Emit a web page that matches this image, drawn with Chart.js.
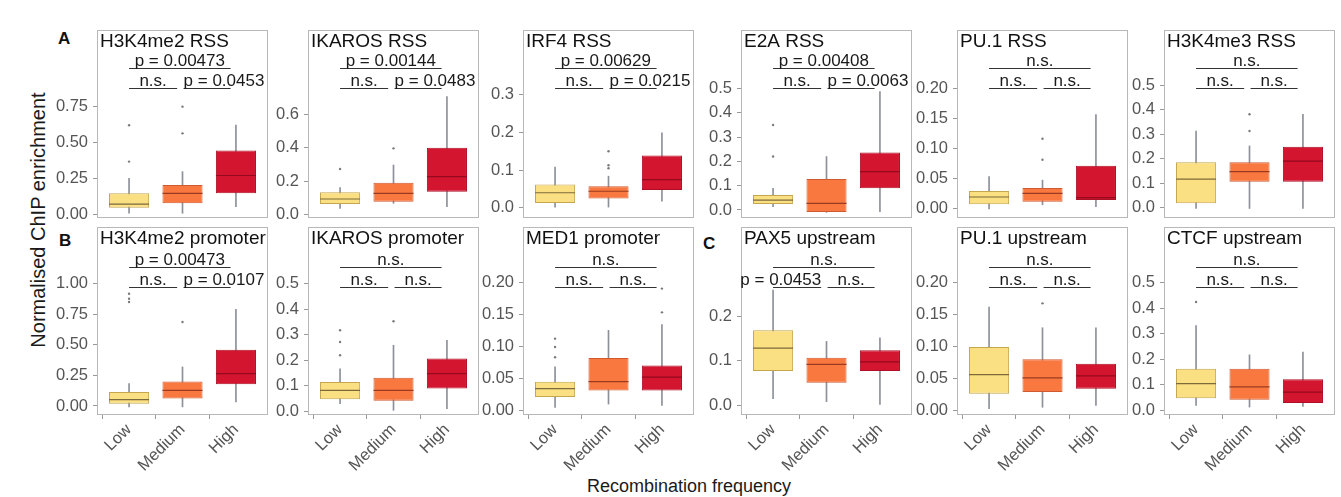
<!DOCTYPE html>
<html>
<head>
<meta charset="utf-8">
<script src="https://cdn.jsdelivr.net/npm/chart.js@4.4.1/dist/chart.umd.min.js"></script>
<style>
html,body{margin:0;padding:0;background:#fff;}
#fig{position:relative;width:1341px;height:497px;overflow:hidden;font-family:"Liberation Sans",Arial,Helvetica,sans-serif;background:#fff;}
#fig canvas{position:absolute;}
.txt{position:absolute;white-space:nowrap;color:#111;}
</style>
</head>
<body>
<div id="fig">
  <div class="txt" style="left:58px;top:29px;font-size:17px;line-height:20px;font-weight:bold;">A</div>
  <div class="txt" style="left:59px;top:231px;font-size:17px;line-height:20px;font-weight:bold;">B</div>
  <div class="txt" style="left:703px;top:234px;font-size:17px;line-height:20px;font-weight:bold;">C</div>
  <div class="txt" style="left:-112px;top:209px;width:300px;text-align:center;font-size:20px;line-height:22px;transform:rotate(-90deg);color:#1a1a1a;">Normalised ChIP enrichment</div>
  <div class="txt" style="left:489px;top:476px;width:400px;text-align:center;font-size:18px;line-height:20px;color:#1a1a1a;">Recombination frequency</div>
</div>
<script>
// ---------------- data ----------------
const categories = ['Low', 'Medium', 'High'];
const panelTitles = ['H3K4me2 RSS', 'IKAROS RSS', 'IRF4 RSS', 'E2A RSS', 'PU.1 RSS', 'H3K4me3 RSS',
                     'H3K4me2 promoter', 'IKAROS promoter', 'MED1 promoter', 'PAX5 upstream', 'PU.1 upstream', 'CTCF upstream'];

// per category: [lower whisker, Q1, median, Q3, upper whisker]
const statsH3K4me2RSS      = [[0.007,0.046,0.070,0.146,0.250],[0.007,0.077,0.146,0.204,0.297],[0.053,0.146,0.270,0.444,0.622]];
const statsIKAROSRSS       = [[0.036,0.062,0.092,0.132,0.160],[0.066,0.076,0.126,0.190,0.296],[0.046,0.136,0.226,0.400,0.706]];
const statsIRF4RSS         = [[0.002,0.013,0.040,0.062,0.108],[0.002,0.025,0.044,0.057,0.084],[0.018,0.047,0.075,0.139,0.199]];
const statsE2ARSS          = [[0.014,0.025,0.041,0.062,0.089],[-0.010,-0.008,0.027,0.128,0.220],[-0.007,0.089,0.158,0.237,0.487]];
const statsPU1RSS          = [[-0.001,0.007,0.019,0.029,0.053],[0.006,0.011,0.025,0.034,0.047],[0.003,0.014,0.018,0.071,0.156]];
const statsH3K4me3RSS      = [[-0.003,0.018,0.117,0.185,0.313],[-0.003,0.106,0.147,0.185,0.252],[-0.003,0.106,0.190,0.249,0.381]];
const statsH3K4me2Promoter = [[-0.008,0.019,0.052,0.114,0.183],[-0.008,0.060,0.128,0.200,0.319],[0.033,0.177,0.264,0.460,0.790]];
const statsIKAROSPromoter  = [[0.030,0.047,0.082,0.115,0.167],[0.004,0.041,0.082,0.132,0.259],[0.010,0.089,0.148,0.207,0.278]];
const statsMED1Promoter    = [[0.005,0.021,0.034,0.045,0.068],[0.010,0.031,0.045,0.082,0.125],[0.008,0.031,0.052,0.070,0.134]];
const statsPAX5Upstream    = [[0.015,0.077,0.129,0.169,0.260],[0.008,0.051,0.092,0.107,0.144],[0.002,0.077,0.098,0.124,0.152]];
const statsPU1Upstream     = [[0.003,0.026,0.056,0.099,0.161],[0.005,0.029,0.051,0.080,0.129],[0.008,0.034,0.054,0.073,0.129]];
const statsCTCFUpstream    = [[0.020,0.048,0.105,0.163,0.333],[0.013,0.042,0.092,0.163,0.218],[0.016,0.029,0.072,0.122,0.229]];

// outlier points per category
const outH3K4me2RSS      = [[0.367,0.620],[0.564,0.750],[]];
const outIKAROSRSS       = [[0.272],[0.396],[]];
const outIRF4RSS         = [[],[0.105,0.113,0.150],[]];
const outE2ARSS          = [[0.220,0.350],[],[]];
const outPU1RSS          = [[],[0.081,0.116],[]];
const outH3K4me3RSS      = [[],[0.313,0.381],[]];
const outH3K4me2Promoter = [[0.850,0.877,0.918],[0.687],[]];
const outIKAROSPromoter  = [[0.220,0.272,0.318],[0.353],[]];
const outMED1Promoter    = [[0.083,0.099,0.112],[],[0.153,0.190]];
const outPAX5Upstream    = [[],[],[]];
const outPU1Upstream     = [[],[0.167],[]];
const outCTCFUpstream    = [[0.425],[],[]];

const panelStats = [statsH3K4me2RSS, statsIKAROSRSS, statsIRF4RSS, statsE2ARSS, statsPU1RSS, statsH3K4me3RSS,
                    statsH3K4me2Promoter, statsIKAROSPromoter, statsMED1Promoter, statsPAX5Upstream, statsPU1Upstream, statsCTCFUpstream];
const panelOutliers = [outH3K4me2RSS, outIKAROSRSS, outIRF4RSS, outE2ARSS, outPU1RSS, outH3K4me3RSS,
                       outH3K4me2Promoter, outIKAROSPromoter, outMED1Promoter, outPAX5Upstream, outPU1Upstream, outCTCFUpstream];

const yLimits = [[-0.026,1.284],[-0.022,1.106],[-0.027,0.472],[-0.033,0.741],[-0.016,0.297],[-0.042,0.725],
                 [-0.074,1.464],[-0.0145,0.723],[-0.007,0.286],[-0.022,0.402],[-0.007,0.286],[-0.018,0.719]];
const yTicks = [[0,0.25,0.5,0.75],[0,0.2,0.4,0.6],[0,0.1,0.2,0.3],[0,0.1,0.2,0.3,0.4,0.5],[0,0.05,0.1,0.15,0.2],[0,0.1,0.2,0.3,0.4,0.5],
                [0,0.25,0.5,0.75,1],[0,0.1,0.2,0.3,0.4,0.5],[0,0.05,0.1,0.15,0.2],[0,0.1,0.2],[0,0.05,0.1,0.15,0.2],[0,0.1,0.2,0.3,0.4,0.5]];
const yTickLabels = [['0.00','0.25','0.50','0.75'],['0.0','0.2','0.4','0.6'],['0.0','0.1','0.2','0.3'],['0.0','0.1','0.2','0.3','0.4','0.5'],
                     ['0.00','0.05','0.10','0.15','0.20'],['0.0','0.1','0.2','0.3','0.4','0.5'],
                     ['0.00','0.25','0.50','0.75','1.00'],['0.0','0.1','0.2','0.3','0.4','0.5'],['0.00','0.05','0.10','0.15','0.20'],
                     ['0.0','0.1','0.2'],['0.00','0.05','0.10','0.15','0.20'],['0.0','0.1','0.2','0.3','0.4','0.5']];

// significance brackets: [Low-High, Low-Medium, Medium-High]
const bracketLabels = [['p = 0.00473','n.s.','p = 0.0453'],['p = 0.00144','n.s.','p = 0.0483'],['p = 0.00629','n.s.','p = 0.0215'],
                       ['p = 0.00408','n.s.','p = 0.0063'],['n.s.','n.s.','n.s.'],['n.s.','n.s.','n.s.'],
                       ['p = 0.00473','n.s.','p = 0.0107'],['n.s.','n.s.','n.s.'],['n.s.','n.s.','n.s.'],
                       ['n.s.','p = 0.0453','n.s.'],['n.s.','n.s.','n.s.'],['n.s.','n.s.','n.s.']];
const bracketSpans = [[1,2.9],[1,1.9],[2.02,2.9]];
// y position of [top bracket, lower brackets]
const bracketY = [[1.019,0.880],[0.878,0.758],[0.371,0.318],[0.585,0.502],[0.234,0.200],[0.570,0.488],
                  [1.137,0.973],[0.566,0.488],[0.224,0.192],[0.312,0.267],[0.224,0.192],[0.562,0.484]];

// ---------------- style / layout ----------------
const FONT = '"Liberation Sans", Arial, Helvetica, sans-serif';
const fills   = ['#fbdf83', '#f9783f', '#d4152f'];
const borders = ['#c4a64e', '#cf5a30', '#ad0f27'];
const medians = ['#7d6a3a', '#9a3a20', '#94091e'];
const whiskerColor = '#8c9098';
const frameLefts = [97, 308, 523, 741, 957, 1164];
const frameTops = [30, 227];
const FRAME_W = 171, FRAME_H = 188, AXW = 50, PAD = 2, XAX_H = 70;

const panelDecor = {
  id: 'panelDecor',
  afterDatasetsDraw(chart, args, opts) {
    const {ctx, chartArea: a, scales: {x, y}} = chart;
    ctx.save();
    ctx.strokeStyle = '#b8b8b8';
    ctx.lineWidth = 1;
    ctx.strokeRect(a.left + 0.5, a.top + 0.5, a.right - a.left - 1, a.bottom - a.top - 1);
    ctx.fillStyle = '#111';
    ctx.font = '19px ' + FONT;
    ctx.textAlign = 'left';
    ctx.textBaseline = 'alphabetic';
    ctx.fillText(opts.title, a.left + 3, a.top + 17);
    ctx.font = '17px ' + FONT;
    ctx.strokeStyle = '#333';
    opts.labels.forEach((lab, j) => {
      const yv = j === 0 ? opts.ys[0] : opts.ys[1];
      const px1 = x.getPixelForValue(bracketSpans[j][0]);
      const px2 = x.getPixelForValue(bracketSpans[j][1]);
      const py = Math.round(y.getPixelForValue(yv)) + 0.5;
      ctx.beginPath(); ctx.moveTo(px1, py); ctx.lineTo(px2, py); ctx.stroke();
      const w = ctx.measureText(lab).width;
      let cx = (px1 + px2) / 2;
      if (w > px2 - px1) {
        if (j === 1) cx = px2 - w / 2;
        else if (j === 2) cx = px1 + w / 2;
      }
      ctx.textAlign = 'center';
      ctx.fillStyle = '#1a1a1a';
      ctx.fillText(lab, cx, py - 3);
    });
    ctx.restore();
  }
};

const catTickColor = c => (c.tick && [1, 2, 3].includes(c.tick.value)) ? '#999' : 'rgba(0,0,0,0)';

const fig = document.getElementById('fig');
panelTitles.forEach((title, i) => {
  const row = i < 6 ? 0 : 1, col = i % 6;
  const stats = panelStats[i], outs = panelOutliers[i];
  const cv = document.createElement('canvas');
  const W = AXW + FRAME_W + PAD;
  const H = PAD + FRAME_H + (row ? XAX_H : PAD);
  cv.width = W; cv.height = H;
  cv.style.left = (frameLefts[col] - AXW) + 'px';
  cv.style.top = (frameTops[row] - PAD) + 'px';
  cv.style.width = W + 'px'; cv.style.height = H + 'px';
  fig.appendChild(cv);

  const outlierPts = [];
  outs.forEach((arr, k) => arr.forEach(v => outlierPts.push({x: k + 1, y: v})));

  new Chart(cv, {
    type: 'bar',
    data: {
      datasets: [
        { type: 'bar', data: stats.map((s, k) => ({x: k + 1, y: [s[0], s[4]]})),
          backgroundColor: whiskerColor, barThickness: 1, grouped: false, order: 4 },
        { type: 'bar', data: stats.map((s, k) => ({x: k + 1, y: [s[1], s[3]]})),
          backgroundColor: fills, borderColor: borders, borderWidth: 1, borderSkipped: false,
          categoryPercentage: 1, barPercentage: 0.75, grouped: false, order: 3 },
        { type: 'scatter', data: stats.map((s, k) => ({x: k + 1, y: s[2]})),
          pointStyle: 'line', pointRadius: 20, pointBorderWidth: 1.2, pointBorderColor: medians, order: 2 },
        { type: 'scatter', data: outlierPts, pointRadius: 1.2, pointBorderWidth: 0,
          pointBackgroundColor: '#7a7a7a', order: 1 }
      ]
    },
    options: {
      responsive: false, animation: false, events: [],
      layout: { autoPadding: false, padding: { left: 0, right: PAD, top: PAD, bottom: row ? 0 : PAD } },
      plugins: { legend: { display: false }, tooltip: { enabled: false },
                 panelDecor: { title: title, labels: bracketLabels[i], ys: bracketY[i] } },
      scales: {
        x: {
          type: 'linear', min: 0.4, max: 3.6, offset: false, display: row === 1,
          grid: { display: true, drawOnChartArea: false, drawTicks: true, tickLength: 4, color: catTickColor },
          border: { display: false },
          afterBuildTicks: ax => { ax.ticks = categories.map((c, k) => ({value: k + 1})); },
          afterFit: ax => { ax.height = row ? XAX_H : 0; ax.paddingLeft = 0; ax.paddingRight = 0; ax.paddingTop = 0; ax.paddingBottom = 0; },
          ticks: { autoSkip: false, minRotation: 45, maxRotation: 45, padding: 1, color: '#555',
                   font: { family: FONT, size: 16.5 }, callback: v => categories[Math.round(v) - 1] }
        },
        y: {
          type: 'linear', min: yLimits[i][0], max: yLimits[i][1],
          grid: { display: true, drawOnChartArea: false, drawTicks: true, tickLength: 4, color: '#999' },
          border: { display: false },
          afterBuildTicks: ax => { ax.ticks = yTicks[i].map(v => ({value: v})); },
          afterFit: ax => { ax.width = AXW; ax.paddingTop = 0; ax.paddingBottom = 0; ax.paddingLeft = 0; ax.paddingRight = 0; },
          ticks: { padding: 5, color: '#555', font: { family: FONT, size: 16.5 },
                   callback: (v, idx) => yTickLabels[i][idx] }
        }
      }
    },
    plugins: [panelDecor]
  });
});
</script>
</body>
</html>
